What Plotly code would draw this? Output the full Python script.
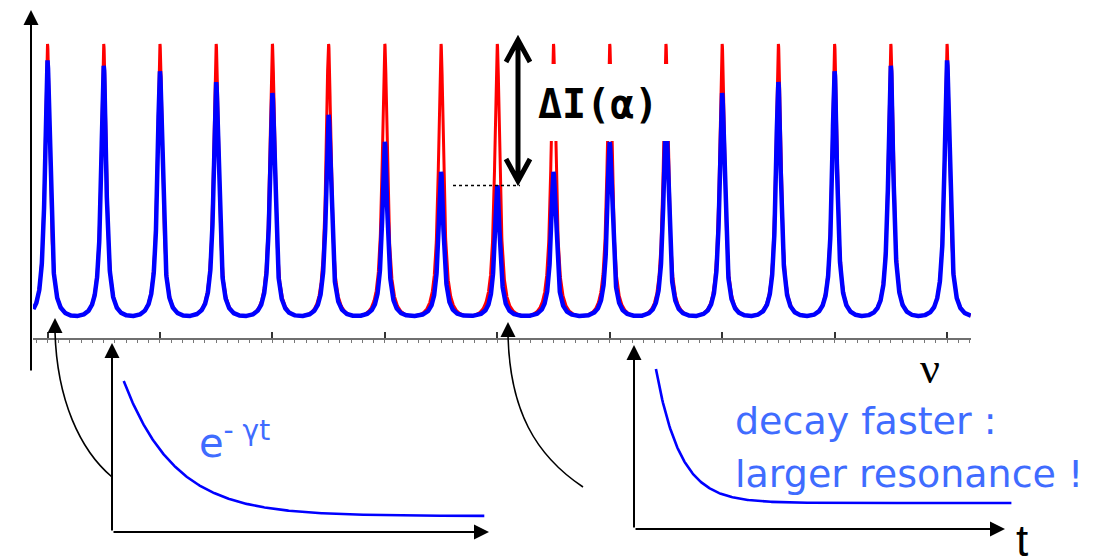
import numpy as np
import plotly.graph_objects as go

W, H = 1112, 558
OFF = 8                      # the page body margin shifts the figure by 8 px
FW, FH = W - OFF, H - OFF    # figure size

# ---------------- data ----------------
peak_order = list(range(17))  # resonance orders, nu in units of the free spectral range
red_heights = [1.0] * 17      # lossless resonances (normalised)
blue_heights = [0.94, 0.92, 0.90, 0.86, 0.82, 0.74, 0.64, 0.53, 0.48,
                0.53, 0.64, 0.74, 0.82, 0.86, 0.90, 0.92, 0.94]
coefficient_F = 35.0          # finesse coefficient of the Airy line shape
nu_start, nu_end = -0.25, 16.42

decay_gamma = [1.0, 2.1]      # slow decay (left inset), fast decay (right inset)
decay_t_start = [0.23, 0.43]
decay_t_end = [7.3, 7.4]

# ---------------- pixel calibration of the axes (screen pixels) ----------------
NU_PX0, NU_PX_PER = 47.5, 56.22     # pixel of nu=0, pixels per order
I_PY0, I_PY_PER = 316.0, 272.0      # pixel of I=0, pixels per unit intensity
AX_LEFT, AX_RIGHT, AX_Y = 33, 971, 338

INSET_OX = [112, 634]               # inset time-axis origin (pixel)
INSET_PX_PER_T = 51.0
INSET_ZERO_PY = [516, 503]          # pixel of value 0
INSET_ONE_PY = [381, 369]           # pixel of value 1


def X(px):
    return (px - OFF) / FW


def Y(py):
    return 1 - (py - OFF) / FH


def nu_of(px):
    return (px - NU_PX0) / NU_PX_PER


def I_of(py):
    return (I_PY0 - py) / I_PY_PER


def airy(nu, heights, F):
    k = np.clip(np.rint(nu).astype(int), 0, len(heights) - 1)
    d = nu - k
    T = 1.0 / (1.0 + F * np.sin(np.pi * d) ** 2)
    Tmin = 1.0 / (1.0 + F)
    g = (T - Tmin) / (1.0 - Tmin)
    return np.asarray(heights)[k] * g


nu = np.unique(np.concatenate([np.linspace(nu_start, nu_end, 7000),
                               np.array(peak_order, dtype=float)]))
red_I = airy(nu, red_heights, coefficient_F)
blue_I = airy(nu, blue_heights, coefficient_F)

fig = go.Figure()
fig.add_trace(go.Scatter(x=nu, y=red_I, mode="lines",
                         line=dict(color="#ff0000", width=3), hoverinfo="skip"))
fig.add_trace(go.Scatter(x=nu, y=blue_I, mode="lines",
                         line=dict(color="#0000ff", width=4.5), hoverinfo="skip"))

for i in range(2):
    t = np.linspace(decay_t_start[i], decay_t_end[i], 400)
    v = np.exp(-decay_gamma[i] * (t - decay_t_start[i]))
    fig.add_trace(go.Scatter(x=t, y=v, mode="lines", xaxis=f"x{i+2}", yaxis=f"y{i+2}",
                             line=dict(color="#0000ff", width=2.6), hoverinfo="skip"))

hidden = dict(visible=False, showgrid=False, zeroline=False, showticklabels=False)

layout = dict(
    width=FW, height=FH, margin=dict(l=0, r=0, t=0, b=0, pad=0),
    paper_bgcolor="white", plot_bgcolor="rgba(0,0,0,0)", showlegend=False,
    xaxis=dict(domain=[X(AX_LEFT), X(AX_RIGHT)], range=[nu_of(AX_LEFT), nu_of(AX_RIGHT)],
               anchor="y", showgrid=False, zeroline=False, showticklabels=False,
               showline=True, linecolor="#6f6f6f", linewidth=1.5,
               ticks="inside", ticklen=6, tickwidth=1.5, tickcolor="#333333",
               tick0=0, dtick=2,
               minor=dict(ticks="outside", ticklen=3, tickwidth=1, tickcolor="#777777",
                          tick0=0, dtick=0.2, showgrid=False)),
    yaxis=dict(domain=[Y(AX_Y), 1], range=[I_of(AX_Y), I_of(OFF)], anchor="x",
               showgrid=False, zeroline=False, showticklabels=False, showline=False, ticks=""),
)
for i in range(2):
    ox = INSET_OX[i]
    scale = INSET_ZERO_PY[i] - INSET_ONE_PY[i]
    layout[f"xaxis{i+2}"] = dict(hidden, domain=[0, 1], anchor=f"y{i+2}",
                                 range=[(OFF - ox) / INSET_PX_PER_T, (W - ox) / INSET_PX_PER_T])
    layout[f"yaxis{i+2}"] = dict(hidden, domain=[0, 1], anchor=f"x{i+2}",
                                 range=[(INSET_ZERO_PY[i] - H) / scale,
                                        (INSET_ZERO_PY[i] - OFF) / scale])
fig.update_layout(**layout)

# ---------------- decorations ----------------
shapes = []
# white label box hiding part of the peaks
shapes.append(dict(type="rect", xref="paper", yref="paper", x0=X(537), x1=X(695),
                   y0=Y(141), y1=Y(64), fillcolor="white", line=dict(width=0), layer="above"))
# dotted line at the lowest blue peak
shapes.append(dict(type="line", xref="x", yref="y", x0=nu_of(453), x1=nu_of(520),
                   y0=min(blue_heights), y1=min(blue_heights),
                   line=dict(color="black", width=1.5, dash="dot"), layer="above"))
# ΔI double arrow
arrow_path = (f"M {X(518)},{Y(40)} L {X(518)},{Y(181)} "
              f"M {X(506)},{Y(62)} L {X(518)},{Y(40)} L {X(530)},{Y(62)} "
              f"M {X(506)},{Y(159)} L {X(518)},{Y(181)} L {X(530)},{Y(159)}")
shapes.append(dict(type="path", xref="paper", yref="paper", path=arrow_path,
                   line=dict(color="black", width=5), layer="above"))
# curved connectors
c1 = f"M {X(55)},{Y(332)} C {X(57)},{Y(400)} {X(80)},{Y(450)} {X(112)},{Y(477)}"
c2 = f"M {X(508)},{Y(336)} C {X(510)},{Y(410)} {X(535)},{Y(455)} {X(583)},{Y(487)}"
for p in (c1, c2):
    shapes.append(dict(type="path", xref="paper", yref="paper", path=p,
                       line=dict(color="black", width=1.6), layer="above"))

annotations = []


def arrow(tip_x, tip_y, tail_x, tail_y, width, size):
    annotations.append(dict(xref="paper", yref="paper", x=X(tip_x), y=Y(tip_y),
                            ax=tail_x - tip_x, ay=tail_y - tip_y, axref="pixel", ayref="pixel",
                            text="", showarrow=True, arrowhead=2, arrowsize=size,
                            arrowwidth=width, arrowcolor="black", standoff=0))


arrow(31, 10, 31, 372, 2, 1.5)          # main intensity axis
arrow(55, 318, 55, 334, 1.5, 2)         # pointer to first resonance
arrow(112, 343, 112, 532, 2, 1.5)       # left inset vertical axis
arrow(489, 532, 112, 532, 2, 1.5)       # left inset time axis
arrow(508, 322, 508, 338, 1.5, 2)       # pointer to broadened resonance
arrow(634, 345, 634, 529, 2, 1.5)       # right inset vertical axis
arrow(1005, 529, 634, 529, 2, 1.5)      # right inset time axis

blue_text = "#3f6cff"
annotations += [
    dict(xref="paper", yref="paper", x=X(598), y=Y(104), text="<b>ΔI(α)</b>",
         showarrow=False, xanchor="center", yanchor="middle",
         font=dict(family="DejaVu Sans Mono", size=40, color="black")),
    dict(xref="paper", yref="paper", x=X(197), y=Y(440), text="e<sup>- γt</sup>",
         showarrow=False, xanchor="left", yanchor="middle",
         font=dict(family="DejaVu Sans", size=40, color=blue_text)),
    dict(xref="paper", yref="paper", x=X(733), y=Y(421), text="decay faster :",
         showarrow=False, xanchor="left", yanchor="middle",
         font=dict(family="DejaVu Sans", size=38, color=blue_text)),
    dict(xref="paper", yref="paper", x=X(733), y=Y(474), text="larger resonance !",
         showarrow=False, xanchor="left", yanchor="middle",
         font=dict(family="DejaVu Sans", size=38, color=blue_text)),
    dict(xref="paper", yref="paper", x=X(930), y=Y(368), text="ν",
         showarrow=False, xanchor="center", yanchor="middle",
         font=dict(family="Liberation Serif", size=44, color="black")),
    dict(xref="paper", yref="paper", x=X(1022), y=Y(540), text="t",
         showarrow=False, xanchor="center", yanchor="middle",
         font=dict(family="Liberation Sans", size=44, color="black")),
]

fig.update_layout(shapes=shapes, annotations=annotations)
fig.write_html("out.html")
